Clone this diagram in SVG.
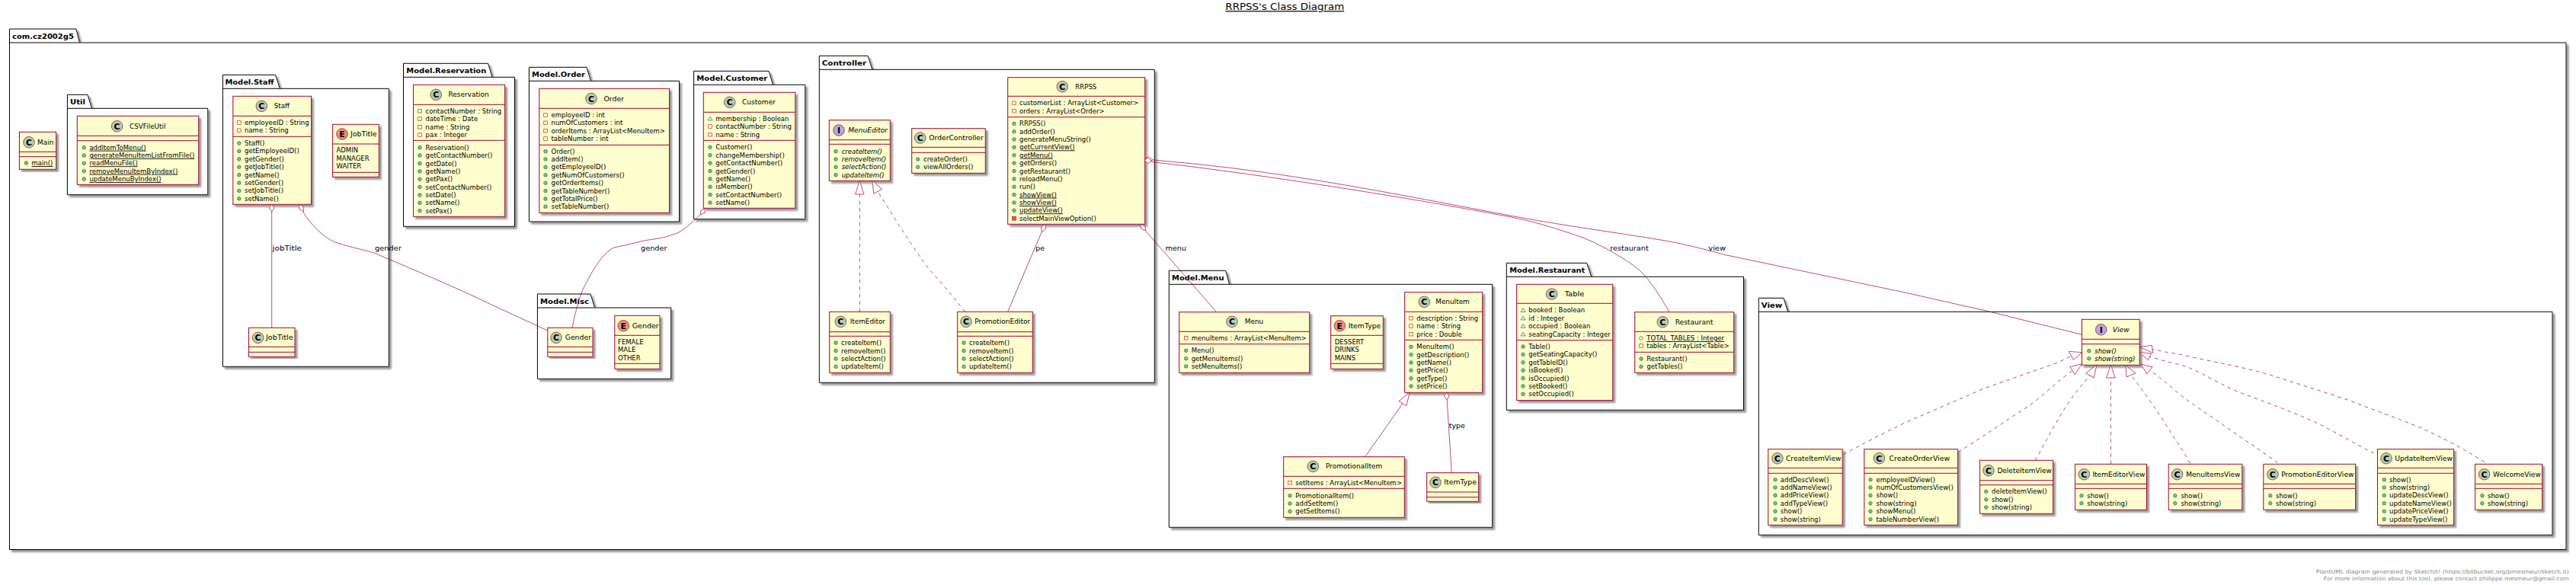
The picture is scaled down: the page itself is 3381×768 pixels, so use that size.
<svg xmlns="http://www.w3.org/2000/svg" width="3381" height="768" viewBox="0 0 3381 768">
<defs>
<style>
text{font-family:"DejaVu Sans","Liberation Sans",sans-serif;fill:#000;font-size:8.5px}
.p{fill:#fff;stroke:#000;stroke-width:1;filter:url(#s)}
.pl{fill:none;stroke:#000;stroke-width:1}
.pt{font-weight:bold;font-size:9.4px}
.b{fill:#FEFECE;stroke:#A80036;stroke-width:1;filter:url(#s)}
.l{stroke:#A80036;stroke-width:1}
.sC{fill:#ADD1B2;stroke:#A80036;stroke-width:.7}
.sE{fill:#EB937F;stroke:#A80036;stroke-width:.7}
.sI{fill:#B4A7E5;stroke:#A80036;stroke-width:.7}
.g{font-weight:bold;font-size:11px;text-anchor:middle}
.i{font-style:italic}
.u{text-decoration:underline}
.c{fill:none;stroke:#A80036;stroke-width:.7}
.d{stroke-dasharray:4.7 4.7}
.h{fill:#fff;stroke:#A80036;stroke-width:.7}
.f{fill:#888;font-size:7.1px}
.pub{fill:#84BE84;stroke:#038048;stroke-width:.7}
.puo{fill:none;stroke:#038048;stroke-width:.7}
.pri{fill:none;stroke:#C82930;stroke-width:.7}
.prm{fill:#F24D5C;stroke:#C82930;stroke-width:.7}
.pk{fill:none;stroke:#1963A0;stroke-width:.7}
</style>
<filter id="s" x="-5%" y="-5%" width="112%" height="112%"><feDropShadow dx="3" dy="3" stdDeviation="1.2" flood-color="#777" flood-opacity=".75"/></filter>
<circle id="pub" class="pub" r="2.3"/>
<circle id="puo" class="puo" r="2.3"/>
<rect id="pri" class="pri" x="-2.3" y="-2.3" width="4.6" height="4.6"/>
<rect id="prm" class="prm" x="-2.5" y="-2.5" width="5" height="5"/>
<path id="pk" class="pk" d="M0,-2.6L3,2.2H-3Z"/>
</defs>
<rect width="3381" height="768" fill="#fff"/>
<text id="title" x="1608.3" y="13.2" class="u" style="font-size:12px" textLength="156" lengthAdjust="spacingAndGlyphs">RRPSS's Class Diagram</text>

<g id="pkg-root"><path class="p" d="M12.5,38H100L104.5,56H3368V721.5H12.5Z"/><path class="pl" d="M12.5,56H104.5"/><text class="pt" x="16" y="50.5" textLength="81" lengthAdjust="spacingAndGlyphs">com.cz2002g5</text></g>

<g id="Main"><rect class="b" x="25.4" y="173.3" width="48.3" height="49"/><path class="l" d="M25.4,199.3H73.7M25.4,205.7H73.7"/><circle class="sC" cx="38" cy="186.7" r="7.3"/><text class="g" x="38" y="190.7">C</text><text x="49" y="189.7" textLength="21.5" lengthAdjust="spacingAndGlyphs">Main</text><use href="#pub" x="34.4" y="214"/><text class="u" x="41.5" y="217">main()</text></g>

<g id="pkg-Util"><path class="p" d="M88.4,124.3H115L120.5,142.3H272.8V255.7H88.4Z"/><path class="pl" d="M88.4,142.3H120.5"/><text class="pt" x="92" y="136.8" textLength="20" lengthAdjust="spacingAndGlyphs">Util</text></g>
<g id="CSVFileUtil"><rect class="b" x="101.3" y="152.3" width="159.4" height="90"/><path class="l" d="M101.3,178.3H260.7M101.3,184.7H260.7"/><circle class="sC" cx="153.6" cy="165.7" r="7.3"/><text class="g" x="153.6" y="169.7">C</text><text x="170" y="168.7" textLength="47.4" lengthAdjust="spacingAndGlyphs">CSVFileUtil</text><use href="#pub" x="110.3" y="193.7"/><text class="u" x="117.4" y="196.7">addItemToMenu()</text><use href="#pub" x="110.3" y="204"/><text class="u" x="117.4" y="207">generateMenuItemListFromFile()</text><use href="#pub" x="110.3" y="214.3"/><text class="u" x="117.4" y="217.3">readMenuFile()</text><use href="#pub" x="110.3" y="224.7"/><text class="u" x="117.4" y="227.7">removeMenuItemByIndex()</text><use href="#pub" x="110.3" y="235"/><text class="u" x="117.4" y="238">updateMenuByIndex()</text></g>

<g id="pkg-Staff"><path class="p" d="M292.4,98.3H361.6L367.4,116.3H510.3V481.3H292.4Z"/><path class="pl" d="M292.4,116.3H367.4"/><text class="pt" x="295.5" y="110.8" textLength="64" lengthAdjust="spacingAndGlyphs">Model.Staff</text></g>
<g id="Staff"><rect class="b" x="305.8" y="126.3" width="102.7" height="142"/><path class="l" d="M305.8,152.3H408.5M305.8,179.3H408.5"/><circle class="sC" cx="343.3" cy="139.3" r="7.3"/><text class="g" x="343.3" y="143.3">C</text><text x="359.8" y="142.3" textLength="20.2" lengthAdjust="spacingAndGlyphs">Staff</text><use href="#pri" x="313.8" y="161"/><text x="321" y="164">employeeID : String</text><use href="#pri" x="313.8" y="171.3"/><text x="321" y="174.3">name : String</text><use href="#pub" x="313.8" y="188"/><text x="321" y="191">Staff()</text><use href="#pub" x="313.8" y="198.4"/><text x="321" y="201.4">getEmployeeID()</text><use href="#pub" x="313.8" y="208.8"/><text x="321" y="211.8">getGender()</text><use href="#pub" x="313.8" y="219.2"/><text x="321" y="222.2">getJobTitle()</text><use href="#pub" x="313.8" y="229.6"/><text x="321" y="232.6">getName()</text><use href="#pub" x="313.8" y="240"/><text x="321" y="243">setGender()</text><use href="#pub" x="313.8" y="250.4"/><text x="321" y="253.4">setJobTitle()</text><use href="#pub" x="313.8" y="260.8"/><text x="321" y="263.8">setName()</text></g>
<g id="JobTitle-enum"><rect class="b" x="436.6" y="163.3" width="60.7" height="69"/><path class="l" d="M436.6,189H497.3M436.6,226.3H497.3"/><circle class="sE" cx="449" cy="176" r="7.3"/><text class="g" x="449" y="180">E</text><text x="460" y="179" textLength="34.6" lengthAdjust="spacingAndGlyphs">JobTitle</text><text x="441.5" y="200.3">ADMIN</text><text x="441.5" y="210.7">MANAGER</text><text x="441.5" y="221">WAITER</text></g>
<g id="JobTitle-class"><rect class="b" x="326.5" y="430.3" width="60.5" height="38"/><path class="l" d="M326.5,455.3H387M326.5,462.3H387"/><circle class="sC" cx="338.6" cy="443.3" r="7.3"/><text class="g" x="338.6" y="447.3">C</text><text x="349" y="446.3" textLength="35.6" lengthAdjust="spacingAndGlyphs">JobTitle</text></g>

<g id="pkg-Reservation"><path class="p" d="M529.5,83.3H640.6L646,101.3H675.5V297.3H529.5Z"/><path class="pl" d="M529.5,101.3H646"/><text class="pt" x="533.3" y="95.8" textLength="105" lengthAdjust="spacingAndGlyphs">Model.Reservation</text></g>
<g id="Reservation"><rect class="b" x="542.5" y="111.3" width="120.1" height="173"/><path class="l" d="M542.5,137.3H662.6M542.5,184.3H662.6"/><circle class="sC" cx="572.3" cy="124.3" r="7.3"/><text class="g" x="572.3" y="128.3">C</text><text x="588.4" y="127.3" textLength="53.2" lengthAdjust="spacingAndGlyphs">Reservation</text><use href="#pri" x="551" y="145.7"/><text x="558.6" y="148.7">contactNumber : String</text><use href="#pri" x="551" y="156"/><text x="558.6" y="159">dateTime : Date</text><use href="#pri" x="551" y="166.7"/><text x="558.6" y="169.7">name : String</text><use href="#pri" x="551" y="177"/><text x="558.6" y="180">pax : Integer</text><use href="#pub" x="551" y="193.7"/><text x="558.6" y="196.7">Reservation()</text><use href="#pub" x="551" y="204"/><text x="558.6" y="207">getContactNumber()</text><use href="#pub" x="551" y="214.5"/><text x="558.6" y="217.5">getDate()</text><use href="#pub" x="551" y="224.8"/><text x="558.6" y="227.8">getName()</text><use href="#pub" x="551" y="235.2"/><text x="558.6" y="238.2">getPax()</text><use href="#pub" x="551" y="245.6"/><text x="558.6" y="248.6">setContactNumber()</text><use href="#pub" x="551" y="256"/><text x="558.6" y="259">setDate()</text><use href="#pub" x="551" y="266.3"/><text x="558.6" y="269.3">setName()</text><use href="#pub" x="551" y="276.7"/><text x="558.6" y="279.7">setPax()</text></g>

<g id="pkg-Order"><path class="p" d="M694.4,88.3H770L775.5,106.3H891.5V291H694.4Z"/><path class="pl" d="M694.4,106.3H775.5"/><text class="pt" x="698" y="100.8" textLength="70" lengthAdjust="spacingAndGlyphs">Model.Order</text></g>
<g id="Order"><rect class="b" x="707.8" y="116.3" width="170.7" height="163"/><path class="l" d="M707.8,142.3H878.5M707.8,190.3H878.5"/><circle class="sC" cx="776" cy="129.5" r="7.3"/><text class="g" x="776" y="133.5">C</text><text x="792.4" y="132.5" textLength="26.6" lengthAdjust="spacingAndGlyphs">Order</text><use href="#pri" x="716" y="151"/><text x="723.5" y="154">employeeID : int</text><use href="#pri" x="716" y="161.3"/><text x="723.5" y="164.3">numOfCustomers : int</text><use href="#pri" x="716" y="171.7"/><text x="723.5" y="174.7">orderItems : ArrayList&lt;MenuItem&gt;</text><use href="#pri" x="716" y="182"/><text x="723.5" y="185">tableNumber : int</text><use href="#pub" x="716" y="198.7"/><text x="723.5" y="201.7">Order()</text><use href="#pub" x="716" y="209"/><text x="723.5" y="212">addItem()</text><use href="#pub" x="716" y="219.4"/><text x="723.5" y="222.4">getEmployeeID()</text><use href="#pub" x="716" y="229.8"/><text x="723.5" y="232.8">getNumOfCustomers()</text><use href="#pub" x="716" y="240.2"/><text x="723.5" y="243.2">getOrderItems()</text><use href="#pub" x="716" y="250.6"/><text x="723.5" y="253.6">getTableNumber()</text><use href="#pub" x="716" y="261"/><text x="723.5" y="264">getTotalPrice()</text><use href="#pub" x="716" y="271.3"/><text x="723.5" y="274.3">setTableNumber()</text></g>

<g id="pkg-Customer"><path class="p" d="M910.6,93.3H1009L1014.7,111.3H1056.8V287.7H910.6Z"/><path class="pl" d="M910.6,111.3H1014.7"/><text class="pt" x="914.3" y="105.8" textLength="93" lengthAdjust="spacingAndGlyphs">Model.Customer</text></g>
<g id="Customer"><rect class="b" x="923.3" y="121.3" width="120.5" height="152"/><path class="l" d="M923.3,147.3H1043.8M923.3,184.3H1043.8"/><circle class="sC" cx="957.7" cy="134.3" r="7.3"/><text class="g" x="957.7" y="138.3">C</text><text x="974" y="137.3" textLength="44" lengthAdjust="spacingAndGlyphs">Customer</text><use href="#pk" x="932" y="155.7"/><text x="939.3" y="158.7">membership : Boolean</text><use href="#pri" x="932" y="166"/><text x="939.3" y="169">contactNumber : String</text><use href="#pri" x="932" y="176.7"/><text x="939.3" y="179.7">name : String</text><use href="#pub" x="932" y="193.3"/><text x="939.3" y="196.3">Customer()</text><use href="#pub" x="932" y="203.7"/><text x="939.3" y="206.7">changeMembership()</text><use href="#pub" x="932" y="214.1"/><text x="939.3" y="217.1">getContactNumber()</text><use href="#pub" x="932" y="224.5"/><text x="939.3" y="227.5">getGender()</text><use href="#pub" x="932" y="234.9"/><text x="939.3" y="237.9">getName()</text><use href="#pub" x="932" y="245.2"/><text x="939.3" y="248.2">isMember()</text><use href="#pub" x="932" y="255.6"/><text x="939.3" y="258.6">setContactNumber()</text><use href="#pub" x="932" y="266"/><text x="939.3" y="269">setName()</text></g>

<g id="pkg-Misc"><path class="p" d="M705.4,386H775L780.6,404H880.7V497.3H705.4Z"/><path class="pl" d="M705.4,404H780.6"/><text class="pt" x="709" y="398.5" textLength="64" lengthAdjust="spacingAndGlyphs">Model.Misc</text></g>
<g id="Gender-class"><rect class="b" x="718.8" y="430.3" width="59.2" height="38"/><path class="l" d="M718.8,455.3H778M718.8,462.3H778"/><circle class="sC" cx="730" cy="443.3" r="7.3"/><text class="g" x="730" y="447.3">C</text><text x="741.7" y="446.3" textLength="34.3" lengthAdjust="spacingAndGlyphs">Gender</text></g>
<g id="Gender-enum"><rect class="b" x="806.8" y="414.3" width="59.2" height="70"/><path class="l" d="M806.8,440.3H866M806.8,477.3H866"/><circle class="sE" cx="818.2" cy="427.7" r="7.3"/><text class="g" x="818.2" y="431.7">E</text><text x="829.7" y="430.7" textLength="35.1" lengthAdjust="spacingAndGlyphs">Gender</text><text x="811" y="452">FEMALE</text><text x="811" y="462.3">MALE</text><text x="811" y="472.7">OTHER</text></g>

<g id="pkg-Controller"><path class="p" d="M1075.3,73.3H1139L1145,91.3H1515.3V502.3H1075.3Z"/><path class="pl" d="M1075.3,91.3H1145"/><text class="pt" x="1078.7" y="85.8" textLength="58.5" lengthAdjust="spacingAndGlyphs">Controller</text></g>
<g id="MenuEditor"><rect class="b" x="1088.3" y="157.7" width="80" height="79.6"/><path class="l" d="M1088.3,183.7H1168.3M1088.3,189.3H1168.3"/><circle class="sI" cx="1101" cy="171" r="7.3"/><text class="g" x="1101" y="175">I</text><text class="i" x="1113.3" y="174" textLength="51.7" lengthAdjust="spacingAndGlyphs">MenuEditor</text><use href="#pub" x="1097" y="198.7"/><text class="i" x="1104.7" y="201.7">createItem()</text><use href="#pub" x="1097" y="209"/><text class="i" x="1104.7" y="212">removeItem()</text><use href="#pub" x="1097" y="219.3"/><text class="i" x="1104.7" y="222.3">selectAction()</text><use href="#pub" x="1097" y="229.7"/><text class="i" x="1104.7" y="232.7">updateItem()</text></g>
<g id="OrderController"><rect class="b" x="1196.7" y="168.7" width="96.6" height="58.6"/><path class="l" d="M1196.7,193.3H1293.3M1196.7,200.3H1293.3"/><circle class="sC" cx="1207.7" cy="181" r="7.3"/><text class="g" x="1207.7" y="185">C</text><text x="1219.3" y="184" textLength="71.4" lengthAdjust="spacingAndGlyphs">OrderController</text><use href="#pub" x="1204.7" y="209"/><text x="1212" y="212">createOrder()</text><use href="#pub" x="1204.7" y="219.3"/><text x="1212" y="222.3">viewAllOrders()</text></g>
<g id="RRPSS"><rect class="b" x="1322.7" y="101.7" width="180" height="192.6"/><path class="l" d="M1322.7,126.3H1502.7M1322.7,153.7H1502.7"/><circle class="sC" cx="1394.3" cy="113.7" r="7.3"/><text class="g" x="1394.3" y="117.7">C</text><text x="1411.3" y="116.7" textLength="28" lengthAdjust="spacingAndGlyphs">RRPSS</text><use href="#pri" x="1331" y="135.3"/><text x="1338" y="138.3">customerList : ArrayList&lt;Customer&gt;</text><use href="#pri" x="1331" y="145.7"/><text x="1338" y="148.7">orders : ArrayList&lt;Order&gt;</text><use href="#pub" x="1331" y="162.3"/><text x="1338" y="165.3">RRPSS()</text><use href="#pub" x="1331" y="172.7"/><text x="1338" y="175.7">addOrder()</text><use href="#pub" x="1331" y="183"/><text x="1338" y="186">generateMenuString()</text><use href="#pub" x="1331" y="193.4"/><text class="u" x="1338" y="196.4">getCurrentView()</text><use href="#pub" x="1331" y="203.8"/><text class="u" x="1338" y="206.8">getMenu()</text><use href="#pub" x="1331" y="214.1"/><text x="1338" y="217.1">getOrders()</text><use href="#pub" x="1331" y="224.5"/><text x="1338" y="227.5">getRestaurant()</text><use href="#pub" x="1331" y="234.9"/><text x="1338" y="237.9">reloadMenu()</text><use href="#pub" x="1331" y="245.2"/><text x="1338" y="248.2">run()</text><use href="#pub" x="1331" y="255.6"/><text class="u" x="1338" y="258.6">showView()</text><use href="#pub" x="1331" y="266"/><text class="u" x="1338" y="269">showView()</text><use href="#pub" x="1331" y="276.3"/><text class="u" x="1338" y="279.3">updateView()</text><use href="#prm" x="1331" y="286.7"/><text x="1338" y="289.7">selectMainViewOption()</text></g>
<g id="ItemEditor"><rect class="b" x="1088.7" y="409.3" width="79.6" height="80"/><path class="l" d="M1088.7,435.7H1168.3M1088.7,441.3H1168.3"/><circle class="sC" cx="1103.3" cy="422.3" r="7.3"/><text class="g" x="1103.3" y="426.3">C</text><text x="1115.7" y="425.3" textLength="46.3" lengthAdjust="spacingAndGlyphs">ItemEditor</text><use href="#pub" x="1097" y="450"/><text x="1104" y="453">createItem()</text><use href="#pub" x="1097" y="460.5"/><text x="1104" y="463.5">removeItem()</text><use href="#pub" x="1097" y="471"/><text x="1104" y="474">selectAction()</text><use href="#pub" x="1097" y="481.3"/><text x="1104" y="484.3">updateItem()</text></g>
<g id="PromotionEditor"><rect class="b" x="1256.7" y="409.3" width="98.6" height="80"/><path class="l" d="M1256.7,435.7H1355.3M1256.7,441.3H1355.3"/><circle class="sC" cx="1268" cy="422.3" r="7.3"/><text class="g" x="1268" y="426.3">C</text><text x="1279.3" y="425.3" textLength="73" lengthAdjust="spacingAndGlyphs">PromotionEditor</text><use href="#pub" x="1265" y="450"/><text x="1272" y="453">createItem()</text><use href="#pub" x="1265" y="460.5"/><text x="1272" y="463.5">removeItem()</text><use href="#pub" x="1265" y="471"/><text x="1272" y="474">selectAction()</text><use href="#pub" x="1265" y="481.3"/><text x="1272" y="484.3">updateItem()</text></g>

<g id="pkg-Menu"><path class="p" d="M1534.3,355.3H1608.7L1613.7,373.3H1958.7V692.3H1534.3Z"/><path class="pl" d="M1534.3,373.3H1613.7"/><text class="pt" x="1538" y="367.8" textLength="68.5" lengthAdjust="spacingAndGlyphs">Model.Menu</text></g>
<g id="Menu"><rect class="b" x="1547.7" y="409.7" width="171" height="79.6"/><path class="l" d="M1547.7,435.3H1718.7M1547.7,451.7H1718.7"/><circle class="sC" cx="1617" cy="422.3" r="7.3"/><text class="g" x="1617" y="426.3">C</text><text x="1633.7" y="425.3" textLength="24.6" lengthAdjust="spacingAndGlyphs">Menu</text><use href="#pri" x="1556.7" y="443.7"/><text x="1563.7" y="446.7">menuItems : ArrayList&lt;MenuItem&gt;</text><use href="#pub" x="1556.7" y="460.3"/><text x="1563.7" y="463.3">Menu()</text><use href="#pub" x="1556.7" y="470.7"/><text x="1563.7" y="473.7">getMenuItems()</text><use href="#pub" x="1556.7" y="481"/><text x="1563.7" y="484">setMenuItems()</text></g>
<g id="ItemType-enum"><rect class="b" x="1746.7" y="414.7" width="68.6" height="69.6"/><path class="l" d="M1746.7,440.3H1815.3M1746.7,477.3H1815.3"/><circle class="sE" cx="1758.3" cy="427.7" r="7.3"/><text class="g" x="1758.3" y="431.7">E</text><text x="1769.7" y="430.7" textLength="42.6" lengthAdjust="spacingAndGlyphs">ItemType</text><text x="1751.7" y="451.7">DESSERT</text><text x="1751.7" y="462.3">DRINKS</text><text x="1751.7" y="472.7">MAINS</text></g>
<g id="MenuItem"><rect class="b" x="1843.7" y="383.7" width="102" height="131.6"/><path class="l" d="M1843.7,409.3H1945.7M1843.7,446.3H1945.7"/><circle class="sC" cx="1869.3" cy="396.3" r="7.3"/><text class="g" x="1869.3" y="400.3">C</text><text x="1884.3" y="399.3" textLength="44.4" lengthAdjust="spacingAndGlyphs">MenuItem</text><use href="#pri" x="1852" y="417.7"/><text x="1859.3" y="420.7">description : String</text><use href="#pri" x="1852" y="428"/><text x="1859.3" y="431">name : String</text><use href="#pri" x="1852" y="438.7"/><text x="1859.3" y="441.7">price : Double</text><use href="#pub" x="1852" y="455.3"/><text x="1859.3" y="458.3">MenuItem()</text><use href="#pub" x="1852" y="465.6"/><text x="1859.3" y="468.6">getDescription()</text><use href="#pub" x="1852" y="476"/><text x="1859.3" y="479">getName()</text><use href="#pub" x="1852" y="486.3"/><text x="1859.3" y="489.3">getPrice()</text><use href="#pub" x="1852" y="496.7"/><text x="1859.3" y="499.7">getType()</text><use href="#pub" x="1852" y="507"/><text x="1859.3" y="510">setPrice()</text></g>
<g id="PromotionalItem"><rect class="b" x="1684.7" y="599.7" width="158.6" height="79.6"/><path class="l" d="M1684.7,625.3H1843.3M1684.7,641.3H1843.3"/><circle class="sC" cx="1723.3" cy="612.3" r="7.3"/><text class="g" x="1723.3" y="616.3">C</text><text x="1740" y="615.3" textLength="74.3" lengthAdjust="spacingAndGlyphs">PromotionalItem</text><use href="#pri" x="1693" y="633.7"/><text x="1700.3" y="636.7">setItems : ArrayList&lt;MenuItem&gt;</text><use href="#pub" x="1693" y="650.7"/><text x="1700.3" y="653.7">PromotionalItem()</text><use href="#pub" x="1693" y="661"/><text x="1700.3" y="664">addSetItem()</text><use href="#pub" x="1693" y="671.3"/><text x="1700.3" y="674.3">getSetItems()</text></g>
<g id="ItemType-class"><rect class="b" x="1872.7" y="620.7" width="68" height="37.6"/><path class="l" d="M1872.7,646H1940.7M1872.7,652.7H1940.7"/><circle class="sC" cx="1884" cy="633.3" r="7.3"/><text class="g" x="1884" y="637.3">C</text><text x="1895.3" y="636.3" textLength="42.7" lengthAdjust="spacingAndGlyphs">ItemType</text></g>

<g id="pkg-Restaurant"><path class="p" d="M1977.3,345.3H2082.7L2088.7,363.3H2288.5V538.3H1977.3Z"/><path class="pl" d="M1977.3,363.3H2088.7"/><text class="pt" x="1981.3" y="357.8" textLength="99" lengthAdjust="spacingAndGlyphs">Model.Restaurant</text></g>
<g id="Table"><rect class="b" x="1990.7" y="373.3" width="126" height="152.3"/><path class="l" d="M1990.7,398.3H2116.7M1990.7,446.7H2116.7"/><circle class="sC" cx="2036.7" cy="386" r="7.3"/><text class="g" x="2036.7" y="390">C</text><text x="2053.7" y="389" textLength="25.6" lengthAdjust="spacingAndGlyphs">Table</text><use href="#pk" x="1999" y="407.3"/><text x="2006.3" y="410.3">booked : Boolean</text><use href="#pk" x="1999" y="417.7"/><text x="2006.3" y="420.7">id : Integer</text><use href="#pk" x="1999" y="428"/><text x="2006.3" y="431">occupied : Boolean</text><use href="#pk" x="1999" y="438.7"/><text x="2006.3" y="441.7">seatingCapacity : Integer</text><use href="#pub" x="1999" y="455"/><text x="2006.3" y="458">Table()</text><use href="#pub" x="1999" y="465.4"/><text x="2006.3" y="468.4">getSeatingCapacity()</text><use href="#pub" x="1999" y="475.8"/><text x="2006.3" y="478.8">getTableID()</text><use href="#pub" x="1999" y="486.2"/><text x="2006.3" y="489.2">isBooked()</text><use href="#pub" x="1999" y="496.6"/><text x="2006.3" y="499.6">isOccupied()</text><use href="#pub" x="1999" y="507"/><text x="2006.3" y="510">setBooked()</text><use href="#pub" x="1999" y="517.4"/><text x="2006.3" y="520.4">setOccupied()</text></g>
<g id="Restaurant"><rect class="b" x="2145.7" y="409.7" width="130" height="79.6"/><path class="l" d="M2145.7,435.3H2275.7M2145.7,462.3H2275.7"/><circle class="sC" cx="2182.3" cy="422.7" r="7.3"/><text class="g" x="2182.3" y="426.7">C</text><text x="2198.7" y="425.7" textLength="49.6" lengthAdjust="spacingAndGlyphs">Restaurant</text><use href="#puo" x="2154" y="444"/><text class="u" x="2161.3" y="447">TOTAL_TABLES : Integer</text><use href="#pri" x="2154" y="454"/><text x="2161.3" y="457">tables : ArrayList&lt;Table&gt;</text><use href="#pub" x="2154" y="471"/><text x="2161.3" y="474">Restaurant()</text><use href="#pub" x="2154" y="481.3"/><text x="2161.3" y="484.3">getTables()</text></g>

<g id="pkg-View"><path class="p" d="M2308.3,391.3H2341L2346.7,409.3H3350V702.3H2308.3Z"/><path class="pl" d="M2308.3,409.3H2346.7"/><text class="pt" x="2311.7" y="403.8" textLength="27.5" lengthAdjust="spacingAndGlyphs">View</text></g>
<g id="View"><rect class="b" x="2732.5" y="419.3" width="75.7" height="60"/><path class="l" d="M2732.5,445.3H2808.2M2732.5,451.7H2808.2"/><circle class="sI" cx="2757.7" cy="432.7" r="7.3"/><text class="g" x="2757.7" y="436.7">I</text><text class="i" x="2772.7" y="435.7" textLength="22" lengthAdjust="spacingAndGlyphs">View</text><use href="#pub" x="2741.8" y="460.7"/><text class="i" x="2749.3" y="463.7">show()</text><use href="#pub" x="2741.8" y="470.7"/><text class="i" x="2749.3" y="473.7">show(string)</text></g>
<g id="CreateItemView"><rect class="b" x="2320.7" y="589.7" width="97.5" height="99.6"/><path class="l" d="M2320.7,614.3H2418.2M2320.7,621.3H2418.2"/><circle class="sC" cx="2332.9" cy="601.7" r="7.3"/><text class="g" x="2332.9" y="605.7">C</text><text x="2344" y="604.7" textLength="72.4" lengthAdjust="spacingAndGlyphs">CreateItemView</text><use href="#pub" x="2330" y="629.7"/><text x="2336.8" y="632.7">addDescView()</text><use href="#pub" x="2330" y="640"/><text x="2336.8" y="643">addNameView()</text><use href="#pub" x="2330" y="650.4"/><text x="2336.8" y="653.4">addPriceView()</text><use href="#pub" x="2330" y="660.8"/><text x="2336.8" y="663.8">addTypeView()</text><use href="#pub" x="2330" y="671.2"/><text x="2336.8" y="674.2">show()</text><use href="#pub" x="2330" y="681.7"/><text x="2336.8" y="684.7">show(string)</text></g>
<g id="CreateOrderView"><rect class="b" x="2446.8" y="589.7" width="122.8" height="99.6"/><path class="l" d="M2446.8,614.3H2569.6M2446.8,621.3H2569.6"/><circle class="sC" cx="2466.4" cy="601.7" r="7.3"/><text class="g" x="2466.4" y="605.7">C</text><text x="2479.6" y="604.7" textLength="79.4" lengthAdjust="spacingAndGlyphs">CreateOrderView</text><use href="#pub" x="2455" y="629.7"/><text x="2462.5" y="632.7">employeeIDView()</text><use href="#pub" x="2455" y="640"/><text x="2462.5" y="643">numOfCustomersView()</text><use href="#pub" x="2455" y="650.4"/><text x="2462.5" y="653.4">show()</text><use href="#pub" x="2455" y="660.8"/><text x="2462.5" y="663.8">show(string)</text><use href="#pub" x="2455" y="671.2"/><text x="2462.5" y="674.2">showMenu()</text><use href="#pub" x="2455" y="681.7"/><text x="2462.5" y="684.7">tableNumberView()</text></g>
<g id="DeleteItemView"><rect class="b" x="2598.6" y="604.3" width="96" height="70"/><path class="l" d="M2598.6,630.7H2694.6M2598.6,636.7H2694.6"/><circle class="sC" cx="2610" cy="617.7" r="7.3"/><text class="g" x="2610" y="621.7">C</text><text x="2621.4" y="620.7" textLength="71.5" lengthAdjust="spacingAndGlyphs">DeleteItemView</text><use href="#pub" x="2606.8" y="645.3"/><text x="2614" y="648.3">deleteItemView()</text><use href="#pub" x="2606.8" y="655.7"/><text x="2614" y="658.7">show()</text><use href="#pub" x="2606.8" y="666"/><text x="2614" y="669">show(string)</text></g>
<g id="ItemEditorView"><rect class="b" x="2723.6" y="609.3" width="93.9" height="60"/><path class="l" d="M2723.6,635.3H2817.5M2723.6,641.3H2817.5"/><circle class="sC" cx="2735.4" cy="622.7" r="7.3"/><text class="g" x="2735.4" y="626.7">C</text><text x="2746.4" y="625.7" textLength="69" lengthAdjust="spacingAndGlyphs">ItemEditorView</text><use href="#pub" x="2732" y="650.7"/><text x="2739.3" y="653.7">show()</text><use href="#pub" x="2732" y="660.7"/><text x="2739.3" y="663.7">show(string)</text></g>
<g id="MenuItemsView"><rect class="b" x="2846.2" y="609.3" width="96.6" height="60"/><path class="l" d="M2846.2,635.3H2942.8M2846.2,641.3H2942.8"/><circle class="sC" cx="2857.6" cy="622.7" r="7.3"/><text class="g" x="2857.6" y="626.7">C</text><text x="2869.3" y="625.7" textLength="71.1" lengthAdjust="spacingAndGlyphs">MenuItemsView</text><use href="#pub" x="2854.8" y="650.7"/><text x="2862.4" y="653.7">show()</text><use href="#pub" x="2854.8" y="660.7"/><text x="2862.4" y="663.7">show(string)</text></g>
<g id="PromotionEditorView"><rect class="b" x="2970.8" y="609.3" width="120.8" height="60"/><path class="l" d="M2970.8,635.3H3091.6M2970.8,641.3H3091.6"/><circle class="sC" cx="2982.9" cy="622.7" r="7.3"/><text class="g" x="2982.9" y="626.7">C</text><text x="2994.2" y="625.7" textLength="95.3" lengthAdjust="spacingAndGlyphs">PromotionEditorView</text><use href="#pub" x="2979.8" y="650.7"/><text x="2987" y="653.7">show()</text><use href="#pub" x="2979.8" y="660.7"/><text x="2987" y="663.7">show(string)</text></g>
<g id="UpdateItemView"><rect class="b" x="3120.5" y="589.7" width="100.1" height="99.6"/><path class="l" d="M3120.5,614.3H3220.6M3120.5,621.3H3220.6"/><circle class="sC" cx="3132" cy="601.7" r="7.3"/><text class="g" x="3132" y="605.7">C</text><text x="3143.3" y="604.7" textLength="75.6" lengthAdjust="spacingAndGlyphs">UpdateItemView</text><use href="#pub" x="3129.2" y="629.7"/><text x="3136" y="632.7">show()</text><use href="#pub" x="3129.2" y="640"/><text x="3136" y="643">show(string)</text><use href="#pub" x="3129.2" y="650.4"/><text x="3136" y="653.4">updateDescView()</text><use href="#pub" x="3129.2" y="660.8"/><text x="3136" y="663.8">updateNameView()</text><use href="#pub" x="3129.2" y="671.2"/><text x="3136" y="674.2">updatePriceView()</text><use href="#pub" x="3129.2" y="681.7"/><text x="3136" y="684.7">updateTypeView()</text></g>
<g id="WelcomeView"><rect class="b" x="3248.6" y="609.3" width="88" height="60"/><path class="l" d="M3248.6,635.3H3336.6M3248.6,641.3H3336.6"/><circle class="sC" cx="3260.6" cy="622.7" r="7.3"/><text class="g" x="3260.6" y="626.7">C</text><text x="3272" y="625.7" textLength="62.8" lengthAdjust="spacingAndGlyphs">WelcomeView</text><use href="#pub" x="3257.9" y="650.7"/><text x="3265" y="653.7">show()</text><use href="#pub" x="3257.9" y="660.7"/><text x="3265" y="663.7">show(string)</text></g>

<g id="connectors">
<path class="c" d="M356.7,278V430.3"/><path class="h" d="M356.7,268.3L360,273.2L356.7,278L353.4,273.2Z"/>
<path class="c" d="M397.5,278C412,300 428,315 446,320C462,325 478,328 491,332C545,355 600,378 645,400L718.8,434"/>
<path class="h" d="M392.5,268.6L398,271.2L398.6,277.6L393,275Z"/>
<path class="c" d="M920,281C908,292 896,305 883,308C868,314 850,314 837,318C825,321 815,323 806,325C790,332 775,360 765,380C760,392 755,410 751,430.3"/>
<path class="h" d="M925.5,273.6L925,279.5L919.5,281.8L920,276Z"/>
<path class="c d" d="M1128.3,409.3V255"/><path class="h" d="M1128.3,237.3L1134,255H1122.6Z"/>
<path class="c d" d="M1266.7,409.3C1257,398 1248,386 1240,376.7C1230,365 1223,358 1216.7,350C1195,320 1175,288 1152,251"/><path class="h" d="M1145,237.3L1157.7,248.3L1146.7,254.3Z"/>
<path class="c" d="M1367.5,304L1335,380L1322.7,409.3"/><path class="h" d="M1372,294.5L1372.7,300.5L1367.5,304.5L1366.5,298Z"/>
<path class="c" d="M1503.5,303L1596.7,409.7"/><path class="h" d="M1496.8,294.5L1502.5,296.3L1503.8,302.8L1498.3,300.8Z"/>
<path class="c" d="M1512.5,209.9L1560,214.3C1700,228 1850,258 1980,282.7C2050,296 2120,305 2180,315C2210,320 2240,328 2263,334.3L2500,384L2608,408.3L2732.5,439.3"/>
<path class="h" d="M1502.9,208.5L1507.7,205.8L1512.7,209.8L1507.7,212.7Z"/>
<path class="c" d="M1511.5,212.5L1560,218.3C1700,236 1850,260 1980,284.3C2020,292 2055,304 2080,313C2095,319 2110,327 2123,335C2137,343 2150,352 2160,363C2172,378 2183,395 2190.7,409.7"/>
<path class="h" d="M1502,210.3L1506.5,207.3L1511.7,211.5L1507,214.5Z"/>
<path class="c" d="M1791.7,599.7L1841,529.7"/><path class="h" d="M1850,515.3L1846,532.7L1836,526.7Z"/>
<path class="c" d="M1899.2,525L1905.3,620.7"/><path class="h" d="M1898.6,515.3L1902,520L1899.2,525L1895.7,520.5Z"/>
<path class="c d" d="M2419.6,596.7C2440,585 2470,570 2500,555C2535,540 2565,527 2600,511.7C2625,502 2650,494 2675,485C2690,480 2705,475 2718.4,467"/><path class="h" d="M2732.5,462.7L2721.4,472.3L2715.4,461.3Z"/>
<path class="c d" d="M2570.4,593.3C2600,575 2630,554 2657,536.7C2680,522 2700,500 2720,486.7"/><path class="h" d="M2732.5,477.7L2723.2,491.7L2716.8,481.7Z"/>
<path class="c d" d="M2671.4,604.3C2682,585 2692,566 2703.6,546.7C2716,525 2730,508 2743,493"/><path class="h" d="M2751.8,479.3L2748.2,496L2737.5,490Z"/>
<path class="c d" d="M2770.4,609.3V496"/><path class="h" d="M2770.4,479.3L2776.3,496H2764.5Z"/>
<path class="c d" d="M2874.5,608.3C2868,597 2863,588 2857,580C2835,545 2815,515 2797,492.5"/><path class="h" d="M2790,480L2802.9,490L2791,495Z"/>
<path class="c d" d="M2989.4,607.7C2975,597 2958,585 2940,573.3C2918,558 2895,542 2874.5,528C2860,518 2850,508 2840,500C2832,494 2827,490 2821.5,486.4"/><path class="h" d="M2810,478.3L2825,481.7L2817.9,491Z"/>
<path class="c d" d="M3116,595C3095,585 3070,570 3047,558.3C3015,543 2980,530 2943.5,516.7C2920,508 2895,492 2874.5,483.3C2860,478 2850,476 2845,475L2821.5,468.3"/><path class="h" d="M2808.2,462.7L2823.6,464L2819.3,472.7Z"/>
<path class="c d" d="M3261,606.7C3235,590 3210,577 3185,565C3150,550 3115,538 3081.5,525C3045,513 3010,502 2978,491.7C2945,482 2910,476 2874.5,468.3C2862,465 2850,463 2845,462.7L2825,458.3"/><path class="h" d="M2808.2,455.7L2824.3,453.3L2825.7,463.3Z"/>
<text x="357.6" y="329" textLength="38.4" lengthAdjust="spacingAndGlyphs">jobTitle</text>
<text x="492" y="329" textLength="35" lengthAdjust="spacingAndGlyphs">gender</text>
<text x="841" y="329" textLength="34.4" lengthAdjust="spacingAndGlyphs">gender</text>
<text x="1359.3" y="329" textLength="11.7" lengthAdjust="spacingAndGlyphs">pe</text>
<text x="1529.7" y="329" textLength="27.3" lengthAdjust="spacingAndGlyphs">menu</text>
<text x="2113.3" y="329" textLength="50.4" lengthAdjust="spacingAndGlyphs">restaurant</text>
<text x="2242.3" y="329" textLength="22.7" lengthAdjust="spacingAndGlyphs">view</text>
<text x="1901.7" y="562" textLength="21.3" lengthAdjust="spacingAndGlyphs">type</text>
</g>

<text class="f" x="3039.8" y="752.6" textLength="332" lengthAdjust="spacingAndGlyphs">PlantUML diagram generated by SketchIt! (https://bitbucket.org/pmesmeur/sketch.it)</text>
<text class="f" x="3049.8" y="762.4" textLength="322" lengthAdjust="spacingAndGlyphs">For more information about this tool, please contact philippe.mesmeur@gmail.com</text>
</svg>
